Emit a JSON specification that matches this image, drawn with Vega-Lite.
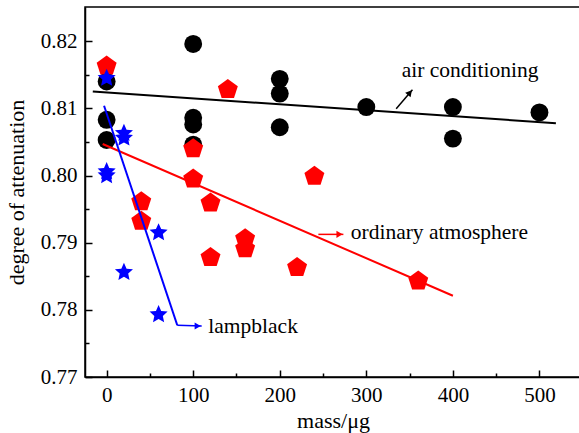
{
  "$schema": "https://vega.github.io/schema/vega-lite/v6.json",
  "width": 496,
  "height": 370,
  "autosize": {"type": "none"},
  "padding": {"left": 85, "top": 7, "right": 0, "bottom": 56},
  "background": "white",
  "config": {
    "view": {"stroke": "black", "strokeWidth": 1.5},
    "font": "Liberation Serif",
    "axis": {
      "domainColor": "black", "domainWidth": 1.5, "tickColor": "black", "tickWidth": 1.5,
      "labelColor": "black", "titleColor": "black", "labelFont": "Liberation Serif", "titleFont": "Liberation Serif",
      "labelFontSize": 21, "titleFontSize": 22, "titleFontWeight": "normal", "grid": false
    }
  },
  "datasets": {
    "circles": [
      {"mass": 0, "att": 0.8140}, {"mass": 0, "att": 0.8083}, {"mass": 0, "att": 0.8053},
      {"mass": 100, "att": 0.8196}, {"mass": 100, "att": 0.8086}, {"mass": 100, "att": 0.8076}, {"mass": 100, "att": 0.8046},
      {"mass": 200, "att": 0.8144}, {"mass": 200, "att": 0.8122}, {"mass": 200, "att": 0.8072},
      {"mass": 300, "att": 0.8102}, {"mass": 400, "att": 0.8102}, {"mass": 400, "att": 0.8055}, {"mass": 500, "att": 0.8094}
    ],
    "pentagons": [
      {"mass": 0, "att": 0.8163}, {"mass": 140, "att": 0.8128}, {"mass": 100, "att": 0.8040}, {"mass": 100, "att": 0.7995},
      {"mass": 120, "att": 0.7959}, {"mass": 40, "att": 0.7961}, {"mass": 40, "att": 0.7932}, {"mass": 120, "att": 0.7878},
      {"mass": 160, "att": 0.7906}, {"mass": 160, "att": 0.7891}, {"mass": 220, "att": 0.7863}, {"mass": 240, "att": 0.7999},
      {"mass": 360, "att": 0.7843}
    ],
    "stars": [
      {"mass": 0, "att": 0.8145}, {"mass": 0, "att": 0.8006}, {"mass": 0, "att": 0.8000},
      {"mass": 20, "att": 0.8063}, {"mass": 20, "att": 0.8056}, {"mass": 20, "att": 0.7856},
      {"mass": 60, "att": 0.7915}, {"mass": 60, "att": 0.7793}
    ],
    "fits": [
      {"series": "air conditioning", "mass": -16, "att": 0.8125},
      {"series": "air conditioning", "mass": 519, "att": 0.8078},
      {"series": "ordinary atmosphere", "mass": -4.6, "att": 0.8047},
      {"series": "ordinary atmosphere", "mass": 400, "att": 0.7821},
      {"series": "lampblack", "mass": -3, "att": 0.8104},
      {"series": "lampblack", "mass": 81.6, "att": 0.7777}
    ],
    "arrows": [
      {"series": "air conditioning", "mass": 334.5, "att": 0.80996, "mass2": 353.3, "att2": 0.81278},
      {"series": "ordinary atmosphere", "mass": 244.6, "att": 0.79124, "mass2": 273.5, "att2": 0.79124},
      {"series": "lampblack", "mass": 81.6, "att": 0.7777, "mass2": 109.8, "att2": 0.7776}
    ],
    "heads": [
      {"series": "air conditioning", "mass": 350.3, "att": 0.81234},
      {"series": "ordinary atmosphere", "mass": 269, "att": 0.79124},
      {"series": "lampblack", "mass": 105.2, "att": 0.7776}
    ],
    "labels": [
      {"label": "air conditioning", "mass": 340.8, "att": 0.8155},
      {"label": "ordinary atmosphere", "mass": 282, "att": 0.7915},
      {"label": "lampblack", "mass": 117.5, "att": 0.7774}
    ]
  },
  "resolve": {"axis": {"x": "independent", "y": "independent"}},
  "layer": [
    {
      "data": {"name": "circles"},
      "mark": {"type": "point", "shape": "circle", "filled": true, "color": "black", "opacity": 1, "size": 320},
      "encoding": {
        "x": {"field": "mass", "type": "quantitative", "scale": {"domain": [-25, 548], "nice": false, "zero": false},
          "axis": {"orient": "bottom", "values": [0, 100, 200, 300, 400, 500], "tickSize": -7, "labelPadding": 14, "title": "mass/μg", "titlePadding": 5}},
        "y": {"field": "att", "type": "quantitative", "scale": {"domain": [0.77, 0.8251], "nice": false, "zero": false},
          "axis": {"orient": "left", "values": [0.77, 0.78, 0.79, 0.8, 0.81, 0.82], "format": ".2f", "tickSize": -7, "labelPadding": 15, "title": "degree of attenuation", "titlePadding": 12}}
      }
    },
    {
      "data": {"name": "pentagons"},
      "mark": {"type": "point", "shape": "M0,-1L0.951,-0.309L0.588,0.809L-0.588,0.809L-0.951,-0.309Z", "filled": true, "color": "#ff0000", "opacity": 1, "size": 440},
      "encoding": {
        "x": {"field": "mass", "type": "quantitative", "axis": null},
        "y": {"field": "att", "type": "quantitative", "axis": null}
      }
    },
    {
      "data": {"name": "fits"},
      "mark": {"type": "line", "strokeWidth": 2},
      "encoding": {
        "x": {"field": "mass", "type": "quantitative",
          "axis": {"orient": "bottom", "values": [50, 150, 250, 350, 450], "tickSize": -4, "labels": false, "domain": false, "title": null}},
        "y": {"field": "att", "type": "quantitative",
          "axis": {"orient": "left", "values": [0.775, 0.785, 0.795, 0.805, 0.815], "tickSize": -4, "labels": false, "domain": false, "title": null}},
        "color": {"field": "series", "type": "nominal", "scale": {"domain": ["air conditioning", "ordinary atmosphere", "lampblack"], "range": ["#000000", "#ff0000", "#0000ff"]}, "legend": null}
      }
    },
    {
      "data": {"name": "stars"},
      "mark": {"type": "point", "shape": "M0,-1L0.276,-0.38L0.951,-0.309L0.447,0.145L0.588,0.809L0,0.47L-0.588,0.809L-0.447,0.145L-0.951,-0.309L-0.276,-0.38Z", "filled": true, "color": "#0000ff", "opacity": 1, "size": 360},
      "encoding": {
        "x": {"field": "mass", "type": "quantitative", "axis": null},
        "y": {"field": "att", "type": "quantitative", "axis": null}
      }
    },
    {
      "data": {"name": "arrows"},
      "mark": {"type": "rule", "strokeWidth": 1.5},
      "encoding": {
        "x": {"field": "mass", "type": "quantitative", "axis": null},
        "y": {"field": "att", "type": "quantitative", "axis": null},
        "x2": {"field": "mass2"},
        "y2": {"field": "att2"},
        "color": {"field": "series", "type": "nominal", "legend": null}
      }
    },
    {
      "data": {"name": "heads"},
      "transform": [{"filter": "datum.series === 'air conditioning'"}],
      "mark": {"type": "point", "shape": "triangle-up", "angle": 40, "filled": true, "opacity": 1, "size": 50},
      "encoding": {
        "x": {"field": "mass", "type": "quantitative", "axis": null},
        "y": {"field": "att", "type": "quantitative", "axis": null},
        "color": {"field": "series", "type": "nominal", "legend": null}
      }
    },
    {
      "data": {"name": "heads"},
      "transform": [{"filter": "datum.series !== 'air conditioning'"}],
      "mark": {"type": "point", "shape": "triangle-right", "filled": true, "opacity": 1, "size": 50},
      "encoding": {
        "x": {"field": "mass", "type": "quantitative", "axis": null},
        "y": {"field": "att", "type": "quantitative", "axis": null},
        "color": {"field": "series", "type": "nominal", "legend": null}
      }
    },
    {
      "data": {"name": "labels"},
      "mark": {"type": "text", "align": "left", "baseline": "middle", "fontSize": 21.5, "font": "Liberation Serif", "color": "black"},
      "encoding": {
        "x": {"field": "mass", "type": "quantitative", "axis": null},
        "y": {"field": "att", "type": "quantitative", "axis": null},
        "text": {"field": "label"}
      }
    }
  ]
}
